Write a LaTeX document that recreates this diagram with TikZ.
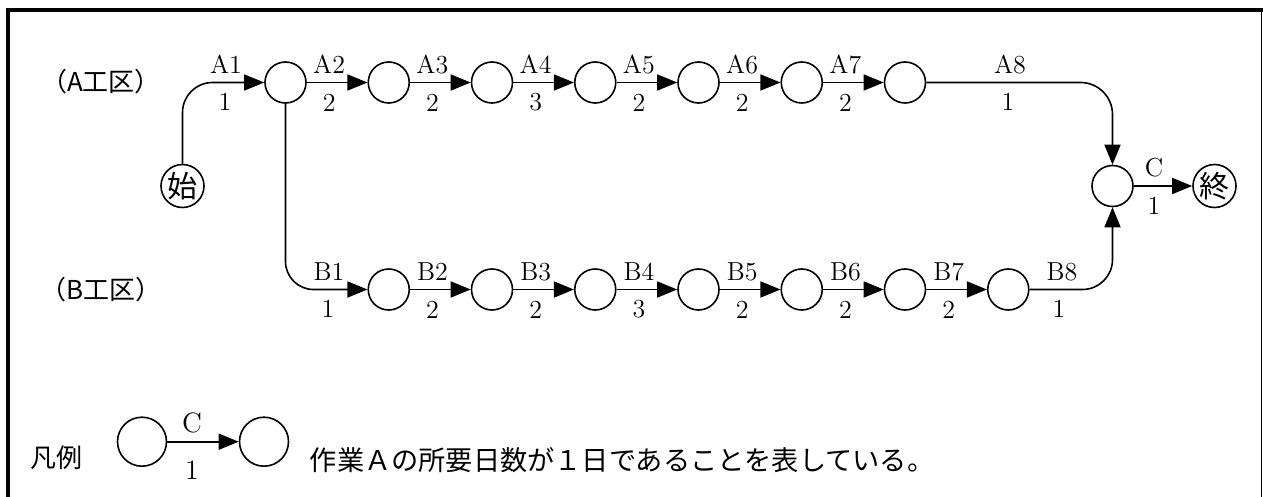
\documentclass[tikz,border=0pt]{standalone}
\usepackage{fontspec}
\newfontfamily\cjk{Noto Sans CJK JP}
\usetikzlibrary{arrows.meta}
\begin{document}
\begin{tikzpicture}[x=0.5pt,y=-0.5pt,line width=0.8pt,
  ev/.style={circle,draw,minimum size=20.5pt,inner sep=0pt},
  evl/.style={circle,draw,minimum size=24.5pt,inner sep=0pt},
  arr/.style={-{Triangle[length=10pt,width=8pt]}},
  lab/.style={font=\fontsize{13}{13}\selectfont,inner sep=0pt},
  labl/.style={font=\fontsize{14}{14}\selectfont,inner sep=0pt},
  jp/.style={font=\cjk\fontsize{13}{13}\selectfont,inner sep=0pt}]
\useasboundingbox (0,0) rectangle (1263,497);
% frame
\draw[line width=2pt] (8,497) -- (8,10) -- (1263,10);
\draw[line width=0.5pt] (1261.7,10) -- (1261.7,497);
% section labels
\node[jp] (secA) at (101,82) {（A工区）};
\node[jp] (secB) at (101,290) {（B工区）};
% events
\node[ev,minimum size=21.5pt,font=\cjk\fontsize{15}{15}\selectfont] (S) at (182.5,186) {始};
\foreach \i in {1,...,7}
  \node[ev] (a\i) at ({285.5+103.25*(\i-1)},82.5) {};
\foreach \i in {1,...,7}
  \node[ev] (b\i) at ({388.75+103.25*(\i-1)},289.5) {};
\node[ev] (J) at (1112.5,186) {};
\node[ev,minimum size=21.5pt,font=\cjk\fontsize{15}{15}\selectfont] (E) at (1214.5,186) {終};
% A line
\draw[arr,rounded corners=15pt] (S.north) |- (a1.west);
\node[lab] (lA1) at (226,64) {A1};
\node[lab] (nA1) at (225,102) {1};
\foreach \i/\j/\d in {1/2/2,2/3/2,3/4/3,4/5/2,5/6/2,6/7/2}
  \draw[arr] (a\i) -- node[lab,xshift=-4pt,yshift=9pt] (lA\j) {A\j}
                      node[lab,xshift=-4pt,yshift=-10pt] (nA\j) {\d} (a\j);
\draw[arr,rounded corners=16pt] (a7.east) -| (J.north);
\node[lab] (lA8) at (1010,64) {A8};
\node[lab] (nA8) at (1008,102) {1};
% B line
\draw[arr,rounded corners=14pt] (a1.south) |- (b1.west);
\node[lab] (lB1) at (329,272) {B1};
\node[lab] (nB1) at (328,309) {1};
\foreach \i/\j/\d in {1/2/2,2/3/2,3/4/3,4/5/2,5/6/2,6/7/2}
  \draw[arr] (b\i) -- node[lab,xshift=-4pt,yshift=9pt] (lB\j) {B\j}
                      node[lab,xshift=-4pt,yshift=-10pt] (nB\j) {\d} (b\j);
\draw[arr,rounded corners=15pt] (b7.east) -| (J.south);
\node[lab] (lB8) at (1062,272) {B8};
\node[lab] (nB8) at (1059,309) {1};
% C
\draw[arr] (J) -- node[lab,xshift=-4.5pt,yshift=9pt] (lC) {C}
                   node[lab,xshift=-4.5pt,yshift=-10pt] (nC) {1} (E);
% legend
\node[font=\cjk\fontsize{13}{13}\selectfont,inner sep=0pt] (leg) at (56,458) {凡例};
\node[evl] (L1) at (142,441.7) {};
\node[evl] (L2) at (264,441.7) {};
\draw[arr] (L1) -- node[labl,xshift=-5.5pt,yshift=9.5pt] (lL) {C}
                   node[labl,xshift=-5.5pt,yshift=-14pt] (nL) {1} (L2);
\node[font=\cjk\fontsize{13.6}{14}\selectfont,inner sep=0pt,anchor=west] (legtxt) at (309,460) {作業Ａの所要日数が１日であることを表している。};
\end{tikzpicture}
\end{document}
